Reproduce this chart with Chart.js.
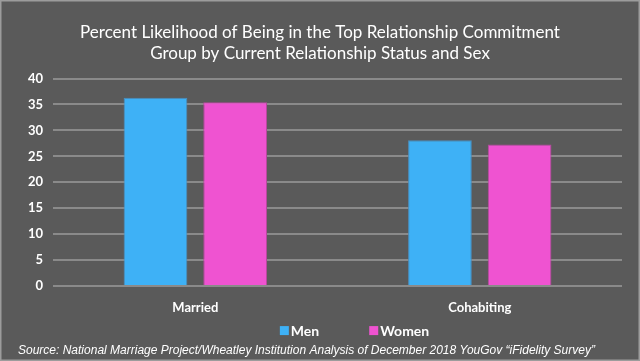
<!DOCTYPE html>
<html><head><meta charset="utf-8">
<script src="https://cdn.jsdelivr.net/npm/chart.js@4"></script>
<style>html,body{margin:0;padding:0;background:#5a5a5a;}#wrap{width:640px;height:361px;}</style>
</head><body><div id="wrap"><canvas id="c" width="640" height="361"></canvas></div>
<script>
const categories = ["Married", "Cohabiting"];
const menValues = [36.3, 28.1];
const womenValues = [35.4, 27.3];
const seriesLabels = ["Men", "Women"];
const titleLines = ["Percent Likelihood of Being in the Top Relationship Commitment", "Group by Current Relationship Status and Sex"];
const sourceText = "Source: National Marriage Project/Wheatley Institution Analysis of December 2018 YouGov \u201ciFidelity Survey\u201d";

const bgPlugin = {
  id: 'bg',
  beforeDraw(chart) {
    const ctx = chart.ctx;
    ctx.save();
    ctx.fillStyle = '#5a5a5a';
    ctx.fillRect(0, 0, chart.width, chart.height);
    ctx.strokeStyle = '#9c9c9c';
    ctx.lineWidth = 1.5;
    ctx.strokeRect(0.75, 0.75, chart.width - 1.5, chart.height - 1.5);
    ctx.restore();
  }
};

// Legend drawn in the gap between the x-axis labels and the source line
const legendPlugin = {
  id: 'customLegend',
  afterDraw(chart) {
    const ctx = chart.ctx;
    const sub = chart.boxes.find(b => b.options && b.options.text === sourceText);
    const y = sub ? sub.top + 9 : chart.height - 31;
    ctx.save();
    ctx.font = 'bold 14px Lato';
    ctx.textBaseline = 'middle';
    ctx.textAlign = 'left';
    const box = 9, textGap = 2, itemGap = 50;
    const items = chart.data.datasets.map(ds => ({ label: ds.label, color: ds.backgroundColor, w: ctx.measureText(ds.label).width }));
    const total = items.reduce((s, it) => s + box + textGap + it.w, 0) + itemGap * (items.length - 1);
    const center = (chart.chartArea.left + chart.chartArea.right) / 2 + 17;
    let x = center - total / 2;
    items.forEach(it => {
      ctx.fillStyle = it.color;
      ctx.fillRect(x, y - box / 2, box, box);
      ctx.fillStyle = '#ffffff';
      ctx.fillText(it.label, x + box + textGap, y + 1);
      x += box + textGap + it.w + itemGap;
    });
    ctx.restore();
  }
};

new Chart(document.getElementById('c'), {
  type: 'bar',
  data: {
    labels: categories,
    datasets: [
      { label: seriesLabels[0], data: menValues, backgroundColor: '#3eb1f6', borderColor: '#4a8fc0', borderWidth: 1 },
      { label: seriesLabels[1], data: womenValues, backgroundColor: '#ef53d1', borderColor: '#b8489e', borderWidth: 1 }
    ]
  },
  options: {
    responsive: false,
    animation: false,
    devicePixelRatio: 1,
    layout: { padding: { left: 18, right: 18, top: 14, bottom: 1 } },
    datasets: { bar: { categoryPercentage: 0.56, barPercentage: 0.8 } },
    scales: {
      x: {
        grid: { display: false },
        border: { display: false },
        ticks: { color: '#ffffff', font: { family: 'Lato', size: 13, weight: 'bold' }, padding: 6 }
      },
      y: {
        min: 0, max: 40,
        ticks: { stepSize: 5, color: '#ffffff', font: { family: 'Lato', size: 13, weight: 'bold' }, padding: 10 },
        grid: { color: '#8a8a8a', lineWidth: 2, drawTicks: false },
        border: { display: false }
      }
    },
    plugins: {
      title: {
        display: true, text: titleLines, color: '#ffffff',
        font: { family: 'Lato', size: 17, weight: 'normal', lineHeight: 1.25 },
        padding: { top: 8, bottom: 14 }
      },
      subtitle: {
        display: true, position: 'bottom', align: 'start', text: sourceText, color: '#ffffff',
        font: { family: 'Liberation Sans', size: 12, style: 'italic' },
        padding: { top: 22, bottom: 2 }
      },
      legend: { display: false },
      tooltip: { enabled: false }
    }
  },
  plugins: [bgPlugin, legendPlugin]
});
</script></body></html>
